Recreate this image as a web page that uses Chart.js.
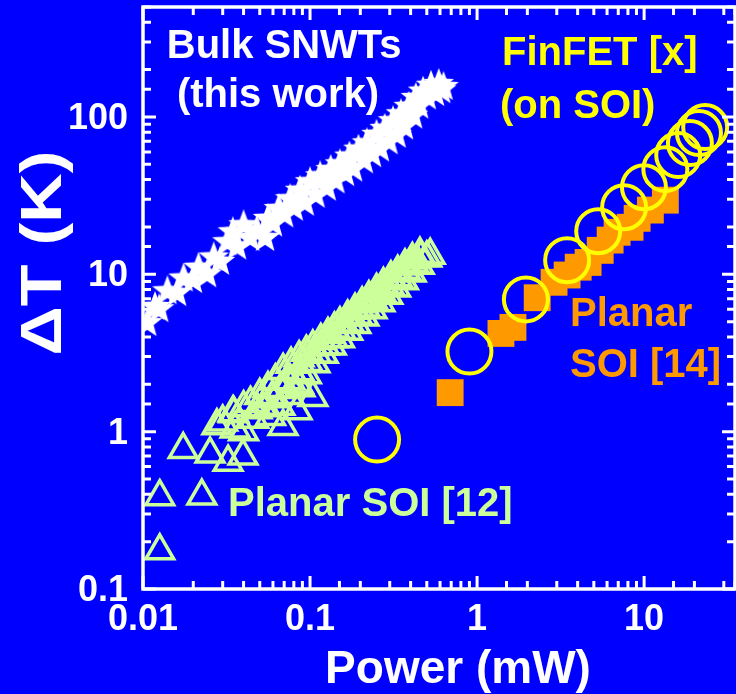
<!DOCTYPE html>
<html>
<head>
<meta charset="utf-8">
<script src="https://cdn.jsdelivr.net/npm/chart.js@4"></script>
<style>
  html, body { margin: 0; padding: 0; background: #0000ff; }
  canvas { display: block; }
</style>
</head>
<body>
<canvas id="thermalChart" width="736" height="694"></canvas>
<script>
  // Tick labels (log axes)
  const xTickLabels = [0.01, 0.1, 1, 10];
  const yTickLabels = [0.1, 1, 10, 100];

  // Bulk SNWTs (this work) - white stars
  const bulkPower = [0.0106, 0.0118, 0.0125, 0.0140, 0.0160, 0.0175, 0.0199, 0.0215, 0.0242, 0.0265,
    0.0289, 0.0320, 0.0345, 0.0366, 0.0400, 0.0438, 0.0480, 0.0538, 0.0560, 0.0600,
    0.0650, 0.0700, 0.0760, 0.0800, 0.0871, 0.0930, 0.1000, 0.1080, 0.1150, 0.1260,
    0.1330, 0.1420, 0.1510, 0.1620, 0.1720, 0.1810, 0.1950, 0.2100, 0.2190, 0.2350,
    0.2500, 0.2620, 0.2800, 0.2950, 0.3140, 0.3300, 0.3500, 0.3650, 0.3900, 0.4140,
    0.4300, 0.4500, 0.4750, 0.5000, 0.5300, 0.5600, 0.5900, 0.6100, 0.6300];
  const bulkDeltaT = [4.9, 6.2, 6.0, 7.8, 7.6, 9.4, 9.2, 11.0, 10.0, 12.8,
    12.0, 16.0, 18.5, 15.0, 20.5, 17.0, 19.0, 17.0, 22.5, 21.0,
    26.0, 24.0, 30.0, 26.5, 34.0, 28.5, 38.5, 32.0, 42.0, 35.5,
    46.0, 39.5, 50.0, 44.0, 56.0, 47.0, 62.0, 53.0, 68.0, 58.0,
    77.0, 63.0, 84.0, 70.0, 94.0, 77.0, 104, 87.0, 116, 102,
    132, 118, 145, 135, 158, 142, 162, 148, 155];

  // Planar SOI [12] - green open triangles
  const planar12Power = [0.0126, 0.0126, 0.0225, 0.0174, 0.0252, 0.0323, 0.0397, 0.0356, 0.0277, 0.0346,
    0.0482, 0.0689, 0.0836, 0.104, 0.087, 0.073,
    0.058, 0.066, 0.075, 0.085, 0.095, 0.107, 0.12, 0.134, 0.15, 0.168,
    0.188, 0.21, 0.235, 0.262, 0.292, 0.325, 0.362, 0.403, 0.45, 0.5,
    0.040, 0.046, 0.052, 0.059, 0.067, 0.076, 0.086, 0.097, 0.109, 0.122,
    0.137, 0.153, 0.171, 0.191, 0.213, 0.238, 0.266, 0.297, 0.332, 0.371, 0.415, 0.46,
    0.030, 0.035, 0.040, 0.044, 0.050, 0.056, 0.062, 0.069, 0.077, 0.086,
    0.095, 0.104, 0.116, 0.128, 0.140, 0.151, 0.168, 0.186, 0.205, 0.225,
    0.250, 0.275, 0.305, 0.335, 0.370, 0.410, 0.455, 0.524];
  const planar12DeltaT = [0.175, 0.386, 0.39, 0.77, 0.72, 0.64, 0.70, 1.04, 1.09, 1.32,
    1.38, 1.08, 1.36, 1.65, 1.9, 2.11,
    1.25, 1.45, 1.7, 2.0, 2.3, 2.7, 3.1, 3.5, 3.9, 4.35,
    4.8, 5.35, 5.95, 6.6, 7.35, 8.2, 9.1, 10.2, 11.4, 12.7,
    1.0, 1.2, 1.42, 1.62, 1.85, 2.1, 2.4, 2.75, 3.1, 3.5,
    3.9, 4.4, 4.9, 5.5, 6.1, 6.8, 7.6, 8.5, 9.5, 10.6, 11.8, 12.8,
    1.15, 1.3, 1.42, 1.51, 1.70, 1.88, 2.1, 2.45, 2.68, 2.95,
    3.2, 3.45, 3.8, 4.15, 4.5, 4.85, 5.35, 5.9, 6.5, 7.1,
    7.9, 8.6, 9.5, 10.3, 11.3, 12.4, 13.4, 13.2];

  // Planar SOI [14] - orange squares
  const planar14Power = [0.69, 1.39, 1.64, 2.29, 2.89, 3.46, 4.03, 4.62, 5.46, 6.26, 6.89, 8.24, 9.08, 10.9, 13.4];
  const planar14DeltaT = [1.77, 4.21, 4.6, 7.1, 8.9, 9.9, 11.1, 11.9, 14.2, 16.5, 18.5, 19.9, 22.7, 25.6, 29.6];

  // FinFET [x] (on SOI) - yellow open circles
  const finfetPower = [0.252, 0.90, 1.96, 3.46, 5.31, 7.59, 9.98, 13.4, 16.0, 18.8, 21.3, 23.2];
  const finfetDeltaT = [0.89, 3.23, 6.93, 12.3, 18.8, 26.7, 35.8, 46.6, 57.3, 68.3, 79.1, 86.3];

  const FONT = '"Liberation Sans", Arial, Helvetica, sans-serif';

  function pairs(xs, ys) {
    return xs.map((x, i) => ({ x: x, y: ys[i] }));
  }

  function starImage(size, color) {
    const c = document.createElement('canvas');
    c.width = c.height = size;
    const g = c.getContext('2d');
    const r = size / 2, ri = r * 0.42;
    g.beginPath();
    for (let i = 0; i < 10; i++) {
      const rad = i % 2 ? ri : r;
      const a = -Math.PI / 2 + i * Math.PI / 5;
      g.lineTo(r + rad * Math.cos(a), r + rad * Math.sin(a));
    }
    g.closePath();
    g.fillStyle = color;
    g.fill();
    return c;
  }

  function isDecade(v) {
    const l = Math.log10(v);
    return Math.abs(l - Math.round(l)) < 1e-6;
  }

  // frame, inward ticks on all four sides, tick labels, annotations
  const framePlugin = {
    id: 'frame',
    beforeDraw(chart) {
      const ctx = chart.ctx;
      ctx.save();
      ctx.fillStyle = '#0000ff';
      ctx.fillRect(0, 0, chart.width, chart.height);
      ctx.restore();
    },
    afterDatasetsDraw(chart) {
      const { ctx, chartArea: a, scales: { x, y } } = chart;
      ctx.save();
      ctx.strokeStyle = '#ffffff';
      ctx.lineWidth = 3.5;
      ctx.strokeRect(a.left, a.top, a.right - a.left, a.bottom - a.top);
      ctx.lineWidth = 3;
      ctx.beginPath();
      x.ticks.forEach(t => {
        const px = x.getPixelForValue(t.value);
        const len = isDecade(t.value) ? 13 : 8;
        ctx.moveTo(px, a.bottom); ctx.lineTo(px, a.bottom - len);
        ctx.moveTo(px, a.top); ctx.lineTo(px, a.top + len);
      });
      y.ticks.forEach(t => {
        const py = y.getPixelForValue(t.value);
        const len = isDecade(t.value) ? 13 : 8;
        ctx.moveTo(a.left, py); ctx.lineTo(a.left + len, py);
        ctx.moveTo(a.right, py); ctx.lineTo(a.right - len, py);
      });
      ctx.stroke();

      // tick labels
      ctx.fillStyle = '#ffffff';
      ctx.font = 'bold 36px ' + FONT;
      ctx.textBaseline = 'alphabetic';
      ctx.textAlign = 'center';
      xTickLabels.forEach(v => {
        ctx.fillText(String(v), x.getPixelForValue(v), a.bottom + 41);
      });
      ctx.textAlign = 'right';
      yTickLabels.forEach(v => {
        ctx.fillText(String(v), a.left - 15, y.getPixelForValue(v) + 12);
      });
      ctx.restore();
    },
    afterDraw(chart) {
      const { ctx, scales: { x, y } } = chart;
      const notes = [
        ['Bulk SNWTs', 0.070, 237, '#ffffff', 'center'],
        ['(this work)', 0.0643, 116, '#ffffff', 'center'],
        ['FinFET [x]', 1.41, 214, '#ffff00', 'left'],
        ['(on SOI)', 1.37, 98.6, '#ffff00', 'left'],
        ['Planar', 3.6, 4.67, '#ff9900', 'left'],
        ['SOI [14]', 3.6, 2.24, '#ff9900', 'left'],
        ['Planar SOI [12]', 0.0323, 0.292, '#ccff99', 'left']
      ];
      ctx.save();
      ctx.font = 'bold 40px ' + FONT;
      ctx.textBaseline = 'alphabetic';
      notes.forEach(n => {
        ctx.fillStyle = n[3];
        ctx.textAlign = n[4];
        ctx.fillText(n[0], x.getPixelForValue(n[1]), y.getPixelForValue(n[2]));
      });
      // axis titles
      ctx.fillStyle = '#ffffff';
      ctx.font = 'bold 46px ' + FONT;
      ctx.textAlign = 'center';
      ctx.fillText('Power (mW)', 458, 683);
      ctx.translate(61, 253);
      ctx.rotate(-Math.PI / 2);
      ctx.scale(1.18, 1);
      ctx.font = 'bold 58px ' + FONT;
      ctx.fillText('\u0394T (K)', 0, 0);
      ctx.restore();
    }
  };

  const ctx = document.getElementById('thermalChart').getContext('2d');
  const thermalChart = new Chart(ctx, {
    type: 'scatter',
    data: {
      datasets: [{
        label: 'FinFET [x] (on SOI)',
        data: pairs(finfetPower, finfetDeltaT),
        pointStyle: 'circle',
        pointRadius: 22,
        pointHoverRadius: 22,
        borderWidth: 4,
        borderColor: '#ffff00',
        backgroundColor: 'rgba(0,0,0,0)',
        order: 0
      }, {
        label: 'Planar SOI [14]',
        data: pairs(planar14Power, planar14DeltaT),
        pointStyle: 'rect',
        pointRadius: 19,
        pointHoverRadius: 19,
        borderWidth: 0,
        backgroundColor: '#ff9900',
        order: 1
      }, {
        label: 'Planar SOI [12]',
        data: pairs(planar12Power, planar12DeltaT),
        pointStyle: 'triangle',
        pointRadius: 16,
        pointHoverRadius: 16,
        borderWidth: 3.5,
        borderColor: '#ccff99',
        backgroundColor: 'rgba(0,0,0,0)',
        clip: 0,
        order: 2
      }, {
        label: 'Bulk SNWTs (this work)',
        data: pairs(bulkPower, bulkDeltaT),
        pointStyle: starImage(32, '#ffffff'),
        pointRadius: 16,
        clip: 0,
        order: 3
      }]
    },
    options: {
      responsive: false,
      animation: false,
      events: [],
      layout: { autoPadding: false, padding: { top: 7, right: 1, left: 0, bottom: 0 } },
      scales: {
        x: {
          type: 'logarithmic',
          min: 0.01,
          max: 35,
          grid: { display: false, drawTicks: false },
          border: { display: false },
          ticks: { display: false },
          afterFit: s => { s.height = 105; }
        },
        y: {
          type: 'logarithmic',
          min: 0.1,
          max: 500,
          grid: { display: false, drawTicks: false },
          border: { display: false },
          ticks: { display: false },
          afterFit: s => { s.width = 143; }
        }
      },
      plugins: {
        legend: { display: false },
        tooltip: { enabled: false }
      }
    },
    plugins: [framePlugin]
  });
</script>
</body>
</html>
